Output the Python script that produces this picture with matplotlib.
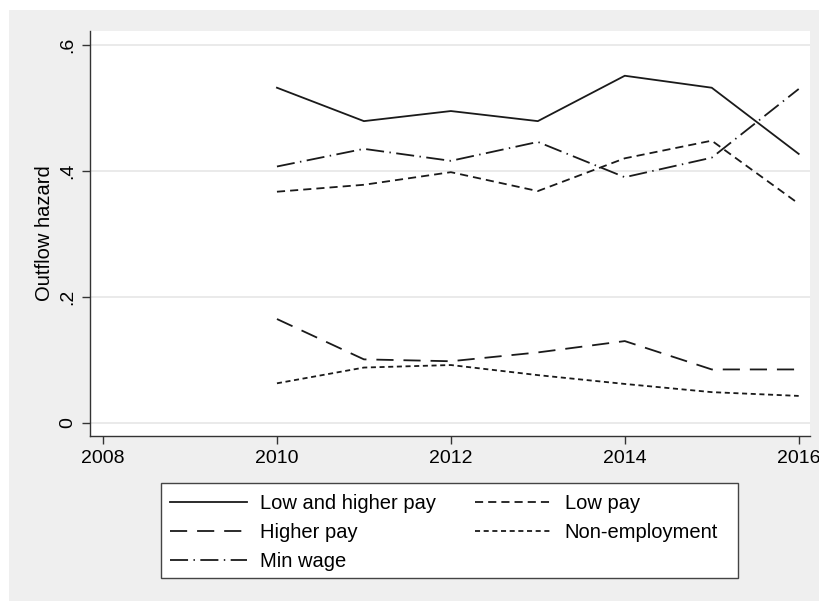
import numpy as np
import matplotlib.pyplot as plt
from matplotlib.patches import Rectangle

plt.rcParams['font.family'] = ['Liberation Sans', 'DejaVu Sans']

years = [2010, 2011, 2012, 2013, 2014, 2015, 2016]
low_and_higher = [0.532, 0.479, 0.495, 0.479, 0.551, 0.532, 0.427]
low_pay = [0.367, 0.378, 0.398, 0.368, 0.420, 0.448, 0.348]
higher_pay = [0.165, 0.101, 0.098, 0.112, 0.130, 0.085, 0.085]
non_employment = [0.063, 0.088, 0.092, 0.076, 0.062, 0.049, 0.043]
min_wage = [0.407, 0.435, 0.416, 0.446, 0.390, 0.421, 0.530]

xticks = [2008, 2010, 2012, 2014, 2016]
yticks = [0, 0.2, 0.4, 0.6]
ylabels = ['0', '.2', '.4', '.6']

W, H = 820, 601
fig = plt.figure(figsize=(W / 100, H / 100), dpi=100)
fig.patch.set_facecolor('white')
bg = '#efefef'
fig.patches.append(Rectangle((9 / W, 0), (W - 9) / W, (H - 10) / H,
                             transform=fig.transFigure, facecolor=bg,
                             edgecolor='none', zorder=-10))

ax = fig.add_axes([90 / W, 1 - 436 / H, (810 - 90) / W, (436 - 31) / H])
ax.set_facecolor('white')

lc = '#1a1a1a'
lw = 1.3
ax.plot(years, low_and_higher, color=lc, lw=lw, ls='-', label='Low and higher pay')
ax.plot(years, low_pay, color=lc, lw=lw, ls=(0, (4.5, 2.8)), label='Low pay')
ax.plot(years, higher_pay, color=lc, lw=lw, ls=(0, (9.5, 5.5)), label='Higher pay')
ax.plot(years, non_employment, color=lc, lw=lw, ls=(0, (2.8, 2)), label='Non-employment')
ax.plot(years, min_wage, color=lc, lw=lw, ls=(0, (10, 3, 0.8, 3)), label='Min wage')

ax.set_xlim(2007.85, 2016.13)
ax.set_ylim(-0.0206, 0.622)
ax.set_xticks(xticks)
ax.set_xticklabels([str(x) for x in xticks], fontsize=14)
ax.set_yticks(yticks)
ax.set_yticklabels(ylabels, fontsize=14, rotation=90, va='center')
ax.set_ylabel('Outflow hazard', fontsize=14.5, labelpad=4)

ax.grid(axis='y', color='#e6e6e6', lw=1.2)
ax.set_axisbelow(True)
for s in ['top', 'right']:
    ax.spines[s].set_visible(False)
for s in ['left', 'bottom']:
    ax.spines[s].set_color('#333333')
    ax.spines[s].set_linewidth(1.0)
ax.tick_params(direction='out', length=6, width=1, color='#333333', pad=4)

# legend box drawn separately so it can be wider than the entries
fig.patches.append(Rectangle((161 / W, 1 - 578 / H), (738 - 161) / W, (578 - 483) / H,
                             transform=fig.transFigure, facecolor='white',
                             edgecolor='#444444', lw=1.0, zorder=-5))

# legend filled row by row: two columns, five entries
handles, labels = ax.get_legend_handles_labels()
order = [0, 2, 4, 1, 3]
leg = fig.legend([handles[i] for i in order], [labels[i] for i in order],
                 ncol=2, loc='upper left',
                 bbox_to_anchor=(161 / W, 1 - 485 / H), fontsize=14.5,
                 frameon=False, handlelength=3.8,
                 handletextpad=0.65, columnspacing=1.95, labelspacing=0.5,
                 borderpad=0.45, borderaxespad=0)

fig.savefig('out.png', dpi=100, facecolor=fig.get_facecolor())
